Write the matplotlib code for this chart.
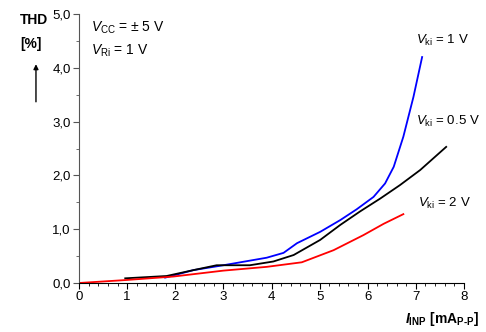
import matplotlib
matplotlib.use("Agg")
import matplotlib.pyplot as plt
from matplotlib.ticker import MultipleLocator

plt.rcParams['font.family'] = ['Liberation Sans', 'DejaVu Sans']
plt.rcParams['mathtext.fontset'] = 'custom'
plt.rcParams['mathtext.rm'] = 'Liberation Sans'
plt.rcParams['mathtext.it'] = 'Liberation Sans:italic'
plt.rcParams['mathtext.bf'] = 'Liberation Sans:bold'
plt.rcParams['mathtext.bfit'] = 'Liberation Sans:bold:italic'

# THD [%] vs input current, for three V_ki values
x_1v = [1.79, 2.38, 3.0, 3.9, 4.25, 4.53, 5.01, 5.43, 5.77, 6.12, 6.36, 6.54, 6.74, 6.95, 7.13]
thd_1v = [0.10, 0.24, 0.33, 0.47, 0.56, 0.74, 0.95, 1.17, 1.37, 1.60, 1.85, 2.16, 2.72, 3.46, 4.20]

x_05v = [0.96, 1.82, 2.38, 2.86, 3.55, 4.04, 4.46, 5.01, 5.43, 5.84, 6.26, 6.67, 7.09, 7.63]
thd_05v = [0.087, 0.13, 0.24, 0.33, 0.33, 0.40, 0.52, 0.80, 1.08, 1.33, 1.57, 1.82, 2.10, 2.53]

x_2v = [0.0, 0.99, 1.96, 3.0, 3.9, 4.63, 5.29, 5.91, 6.33, 6.74]
thd_2v = [0.0, 0.056, 0.12, 0.23, 0.30, 0.385, 0.61, 0.89, 1.10, 1.28]

fig = plt.figure(figsize=(4.86, 3.32), dpi=100)
ax = fig.add_axes([0.1626, 0.1476, 0.7921, 0.8102])

ax.plot(x_1v, thd_1v, color='#0000ff', lw=1.3)
ax.plot(x_05v, thd_05v, color='black', lw=1.3)
ax.plot(x_2v, thd_2v, color='#ff0000', lw=1.3)

ax.set_xlim(0, 8)
ax.set_ylim(0, 5)
ax.xaxis.set_major_locator(MultipleLocator(1))
ax.xaxis.set_minor_locator(MultipleLocator(0.2))
ax.yaxis.set_major_locator(MultipleLocator(1))
ax.yaxis.set_minor_locator(MultipleLocator(0.5))
ax.set_yticks([0, 1, 2, 3, 4, 5])
ax.set_yticklabels(['0,0', '1,0', '2,0', '3,0', '4,0', '5,0'])

for s in ['top', 'right']:
    ax.spines[s].set_visible(False)
ax.spines['left'].set_color('#555555')
ax.tick_params(which='major', length=4, labelsize=9.5, pad=2)
ax.tick_params(which='minor', length=2)
ax.tick_params(axis='y', which='both', color='#555555')

ax.text(0.25, 4.75, r'$V_{\mathrm{CC}}$ = ± 5 V', fontsize=10, va='center')
ax.text(0.25, 4.32, r'$V_{\mathrm{Ri}}$ = 1 V', fontsize=10, va='center')
ax.text(7.0, 4.5, r'$V_{\mathrm{ki}}$ = 1 V', fontsize=9.5, va='center')
ax.text(7.0, 3.0, r'$V_{\mathrm{ki}}$ = 0.5 V', fontsize=9.5, va='center')
ax.text(7.05, 1.48, r'$V_{\mathrm{ki}}$ = 2 V', fontsize=9.5, va='center')

fig.text(0.041, 0.94, 'THD', fontsize=10, fontweight='bold', va='center')
fig.text(0.041, 0.868, '[%]', fontsize=10, fontweight='bold', va='center')
fig.add_artist(matplotlib.patches.FancyArrowPatch((0.074, 0.685), (0.074, 0.815),
               transform=fig.transFigure, arrowstyle='-|>', mutation_scale=7,
               color='black', lw=1))
fig.text(0.985, 0.04, '$\\mathbfit{I}_{\\mathbf{INP}}$ [mA$_{\\mathbf{P\u2010P}}$]', fontsize=10,
         fontweight='bold', ha='right', va='center')

fig.savefig('out.png', dpi=100)
